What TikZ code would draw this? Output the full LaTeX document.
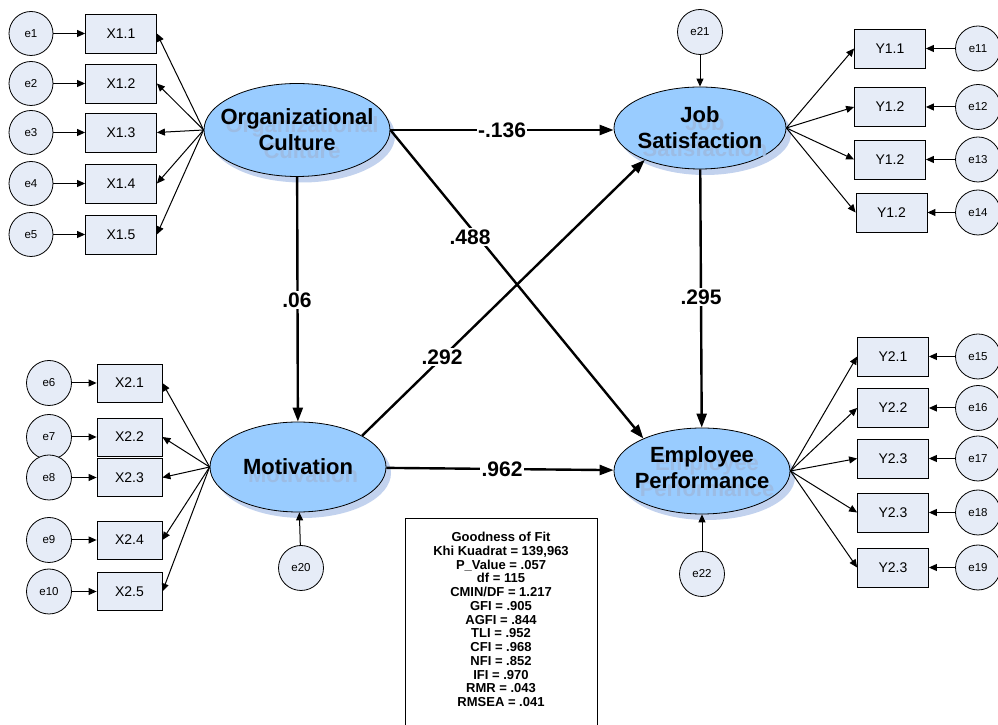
\documentclass[tikz,border=0pt]{standalone}
\usepackage{fontspec}
\setmainfont{Liberation Sans}
\usetikzlibrary{arrows.meta,shapes.geometric}
\definecolor{latfill}{HTML}{99CCFF}
\definecolor{obsfill}{HTML}{E6ECF7}
\definecolor{shadowc}{HTML}{C2D2EE}
\definecolor{ghostc}{HTML}{9CBCE4}
\begin{document}
\begin{tikzpicture}[x=1pt,y=1pt,
  obs/.style={draw, fill=obsfill, minimum width=71pt, minimum height=39pt, inner sep=0pt, line width=0.8pt, font=\fontsize{14}{16}\selectfont},
  obsb/.style={obs, minimum width=65pt, minimum height=38pt},
  err/.style={circle, draw, fill=obsfill, minimum size=45pt, inner sep=0pt, line width=0.8pt, font=\fontsize{11.5}{13}\selectfont},
  lat/.style={ellipse, draw, fill=latfill, inner sep=0pt, line width=0.8pt},
  latsh/.style={ellipse, fill=shadowc, inner sep=0pt},
  lattext/.style={font=\fontsize{22}{26}\selectfont\bfseries, align=center, inner sep=0pt},
  ghost/.style={lattext, text=ghostc},
  thinarr/.style={-{Triangle[length=8pt,width=7pt]}, line width=1pt},
  thickarr/.style={-{Triangle[length=14pt,width=10pt]}, line width=2.4pt},
  coef/.style={fill=white, inner sep=1.5pt, font=\fontsize{21}{24}\selectfont\bfseries}
]
\useasboundingbox (0,0) rectangle (998,725);

% ---------- shadows ----------
\node[latsh, minimum width=186pt, minimum height=93pt] (OCs) at (302,589) {};
\node[latsh, minimum width=172pt, minimum height=82pt] (JSs) at (705,591) {};
\node[latsh, minimum width=176pt, minimum height=90pt] (Mots) at (303,252) {};
\node[latsh, minimum width=176pt, minimum height=86pt] (EPs) at (707,248) {};

% ---------- latent ellipses ----------
\node[lat, minimum width=186pt, minimum height=93pt] (OC) at (297,595) {};
\node[lat, minimum width=172pt, minimum height=82pt] (JS) at (700,597) {};
\node[lat, minimum width=176pt, minimum height=90pt] (Mot) at (298,258) {};
\node[lat, minimum width=176pt, minimum height=86pt] (EP) at (702,254) {};

\node[ghost] (OCg) at (302,587) {Organizational\\Culture};
\node[lattext] (OCt) at (OC.center) {Organizational\\Culture};
\node[ghost] (JSg) at (705,589) {Job\\Satisfaction};
\node[lattext] (JSt) at (JS.center) {Job\\Satisfaction};
\node[ghost] (Motg) at (303,250) {Motivation};
\node[lattext] (Mott) at (Mot.center) {Motivation};
\node[ghost] (EPg) at (707,249) {Employee\\Performance};
\node[lattext] (EPt) at ([yshift=3pt]EP.center) {Employee\\Performance};

% ---------- Organizational Culture indicators ----------
\node[obs] (X11) at (121,691.5) {X1.1};
\node[obs] (X12) at (121,641.5) {X1.2};
\node[obs] (X13) at (121,592.5) {X1.3};
\node[obs] (X14) at (121,541.5) {X1.4};
\node[obs] (X15) at (121,490.5) {X1.5};
\node[err, minimum size=44pt] (e1) at (31,691.5) {e1};
\node[err, minimum size=44pt] (e2) at (31,641.5) {e2};
\node[err, minimum size=44pt] (e3) at (31,592.5) {e3};
\node[err, minimum size=44pt] (e4) at (31,541.5) {e4};
\node[err, minimum size=44pt] (e5) at (31,490.5) {e5};
\foreach \i in {1,...,5}{
  \draw[thinarr] (e\i) -- (X1\i);
  \draw[thinarr] (OC.west) -- (X1\i.east);
}

% ---------- Motivation indicators ----------
\node[obsb] (X21) at (129.5,342) {X2.1};
\node[obsb] (X22) at (129.5,288) {X2.2};
\node[obsb] (X23) at (129.5,247.5) {X2.3};
\node[obsb] (X24) at (129.5,185) {X2.4};
\node[obsb] (X25) at (129.5,133.5) {X2.5};
\node[err] (e6) at (49,342) {e6};
\node[err] (e7) at (49,288) {e7};
\node[err] (e8) at (49,247.5) {e8};
\node[err] (e9) at (49,185) {e9};
\node[err] (e10) at (49,133.5) {e10};
\draw[thinarr] (e6) -- (X21);
\draw[thinarr] (e7) -- (X22);
\draw[thinarr] (e8) -- (X23);
\draw[thinarr] (e9) -- (X24);
\draw[thinarr] (e10) -- (X25);
\foreach \i in {1,...,5}{
  \draw[thinarr] (Mot.west) -- (X2\i.east);
}

% ---------- Job Satisfaction indicators ----------
\node[obs] (Y11) at (890,676.5) {Y1.1};
\node[obs] (Y12) at (890,618) {Y1.2};
\node[obs] (Y13) at (890,565.5) {Y1.2};
\node[obs] (Y14) at (891.5,512.5) {Y1.2};
\node[err] (e11) at (978,676.5) {e11};
\node[err] (e12) at (978,618) {e12};
\node[err] (e13) at (978,565.5) {e13};
\node[err] (e14) at (978,512.5) {e14};
\draw[thinarr] (e11) -- (Y11);
\draw[thinarr] (e12) -- (Y12);
\draw[thinarr] (e13) -- (Y13);
\draw[thinarr] (e14) -- (Y14);
\foreach \i in {1,...,4}{
  \draw[thinarr] (JS.east) -- (Y1\i.west);
}

% ---------- Employee Performance indicators ----------
\node[obs] (Y21) at (893,368.5) {Y2.1};
\node[obs] (Y22) at (893,317) {Y2.2};
\node[obs] (Y23) at (893,266.5) {Y2.3};
\node[obs] (Y24) at (893,212.5) {Y2.3};
\node[obs] (Y25) at (893,157.5) {Y2.3};
\node[err] (e15) at (978,368.5) {e15};
\node[err] (e16) at (978,317) {e16};
\node[err] (e17) at (978,266.5) {e17};
\node[err] (e18) at (978,212.5) {e18};
\node[err] (e19) at (978,157.5) {e19};
\draw[thinarr] (e15) -- (Y21);
\draw[thinarr] (e16) -- (Y22);
\draw[thinarr] (e17) -- (Y23);
\draw[thinarr] (e18) -- (Y24);
\draw[thinarr] (e19) -- (Y25);
\foreach \i in {1,...,5}{
  \draw[thinarr] (EP.east) -- (Y2\i.west);
}

% ---------- disturbances ----------
\node[err] (e21) at (700,693) {e21};
\node[err] (e20) at (301,157) {e20};
\node[err] (e22) at (702,151) {e22};
\draw[thinarr] (e21) -- (JS);
\draw[thinarr] (e20) -- (Mot);
\draw[thinarr] (e22) -- (EP);

% ---------- structural paths ----------
\draw[thickarr] (OC.east) -- (JS.west |- OC.east);
\draw[thickarr] (OC.east) -- (EP.151);
\draw[thickarr] (OC) -- (Mot);
\draw[thickarr] (Mot.26) -- (JS.210);
\draw[thickarr] (JS) -- (EP);
\draw[thickarr] (Mot) -- (EP);

\node[coef] (c1) at (502,595) {-.136};
\node[coef] (c2) at (470,488) {.488};
\node[coef] (c3) at (297,425) {.06};
\node[coef] (c4) at (442,368) {.292};
\node[coef] (c5) at (701,428) {.295};
\node[coef] (c6) at (502,256) {.962};

% ---------- goodness of fit ----------
\node[draw, fill=white, line width=0.8pt, minimum width=192pt, minimum height=215pt, anchor=north] (gof) at (501,207) {};
\node[anchor=north, align=center, inner sep=0pt, font=\fontsize{13}{13.75}\selectfont\bfseries] (goft) at ([yshift=-14pt]gof.north) {Goodness of Fit\\
Khi Kuadrat = 139,963\\
P\_Value = .057\\
df = 115\\
CMIN/DF = 1.217\\
GFI = .905\\
AGFI = .844\\
TLI = .952\\
CFI = .968\\
NFI = .852\\
IFI = .970\\
RMR = .043\\
RMSEA = .041};
\end{tikzpicture}
\end{document}
